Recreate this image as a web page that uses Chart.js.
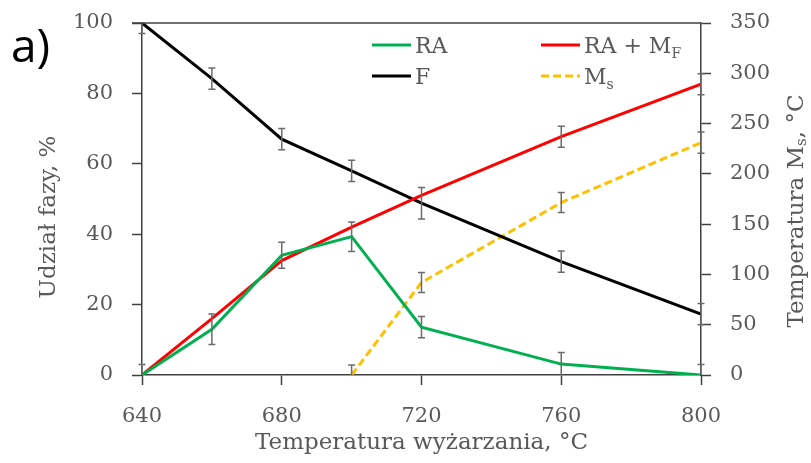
<!DOCTYPE html>
<html>
<head>
<meta charset="utf-8">
<script src="https://cdn.jsdelivr.net/npm/chart.js@4.4.0/dist/chart.umd.min.js"></script>
<style>
  html, body { margin: 0; padding: 0; background: #fff; }
  #wrap { width: 811px; height: 463px; }
</style>
</head>
<body>
<div id="wrap"><canvas id="c"></canvas></div>
<script>
// temperatures (x) and series
const temps = [640, 660, 680, 700, 720, 760, 800]
const ra    = [0, 13, 34, 39.3, 13.6, 3.1, 0]
const raMf  = [0, 16, 32.5, 42, 51, 67.7, 82.6]
const ferr  = [100, 84.2, 67, 58, 48.8, 32.2, 17.3]
const ms    = [null, null, null, 0, 92, 171.5, 231]

// error bar half-lengths (same units as their series), null = no bar
const raErr   = [3, 4.3, 3.7, 4.2, 3, 3.3, 3]
const raMfErr = [null, null, null, null, null, 3, 3]
const fErr    = [3, 3, 3, 3, 4.5, 3, 3]
const msErr   = [null, null, null, 10, 10, 10, 10.5]

const xTicks = [640, 680, 720, 760, 800]

const GREY = '#595959'
const AXIS = '#404040'
const FONT = 'DejaVu Serif'

const pts = arr => temps.map((t, i) => ({ x: t, y: arr[i] }))

// text with optional subscript parts: [[text, isSub], ...]
function drawParts(ctx, parts, x, y, size) {
  let cx = x
  parts.forEach(([txt, sub]) => {
    const s = sub ? Math.round(size * 0.65) : size
    ctx.font = s + 'px "' + FONT + '"'
    ctx.fillText(txt, cx, sub ? y + size * 0.22 : y)
    cx += ctx.measureText(txt).width
  })
  return cx - x
}
function partsWidth(ctx, parts, size) {
  let w = 0
  parts.forEach(([txt, sub]) => {
    ctx.font = (sub ? Math.round(size * 0.65) : size) + 'px "' + FONT + '"'
    w += ctx.measureText(txt).width
  })
  return w
}

const errorBars = {
  id: 'errorBars',
  afterDatasetsDraw(chart) {
    const ctx = chart.ctx
    const a = chart.chartArea
    ctx.save()
    ctx.beginPath()
    ctx.rect(a.left - 12, a.top, a.right - a.left + 24, a.bottom - a.top)
    ctx.clip()
    ctx.strokeStyle = '#6b6b6b'
    ctx.lineWidth = 1.5
    chart.data.datasets.forEach((ds, di) => {
      if (!ds.errs) return
      const meta = chart.getDatasetMeta(di)
      const ys = chart.scales[ds.yAxisID]
      ds.errs.forEach((e, i) => {
        const v = ds.data[i].y
        if (e == null || v == null) return
        const x = meta.data[i].x
        const y1 = ys.getPixelForValue(v - e)
        const y2 = ys.getPixelForValue(v + e)
        ctx.beginPath()
        ctx.moveTo(x, y1); ctx.lineTo(x, y2)
        ctx.moveTo(x - 3.5, y1); ctx.lineTo(x + 3.5, y1)
        ctx.moveTo(x - 3.5, y2); ctx.lineTo(x + 3.5, y2)
        ctx.stroke()
      })
    })
    ctx.restore()
  }
}

const decor = {
  id: 'decor',
  afterDraw(chart) {
    const ctx = chart.ctx
    const a = chart.chartArea
    ctx.save()
    // top frame line
    ctx.strokeStyle = AXIS
    ctx.lineWidth = 1.5
    ctx.beginPath()
    ctx.moveTo(a.left - 10, a.top); ctx.lineTo(a.right, a.top)
    ctx.stroke()

    // legend
    const legend = [
      { ds: 0, parts: [['RA', false]], x: 372, y: 45 },
      { ds: 1, parts: [['RA + M', false], ['F', true]], x: 541, y: 45 },
      { ds: 2, parts: [['F', false]], x: 372, y: 76 },
      { ds: 3, parts: [['M', false], ['s', true]], x: 541, y: 76 }
    ]
    legend.forEach(it => {
      const ds = chart.data.datasets[it.ds]
      ctx.strokeStyle = ds.borderColor
      ctx.lineWidth = 3
      ctx.setLineDash(ds.borderDash || [])
      ctx.beginPath()
      ctx.moveTo(it.x, it.y); ctx.lineTo(it.x + 39, it.y)
      ctx.stroke()
      ctx.setLineDash([])
      ctx.fillStyle = GREY
      ctx.textBaseline = 'alphabetic'
      ctx.textAlign = 'left'
      drawParts(ctx, it.parts, it.x + 43, it.y + 8, 22)
    })

    // axis titles
    ctx.fillStyle = GREY
    ctx.textBaseline = 'middle'
    ctx.textAlign = 'left'
    const xt = [['Temperatura wyżarzania, °C', false]]
    drawParts(ctx, xt, (a.left + a.right) / 2 - partsWidth(ctx, xt, 23) / 2, 443, 23)

    const lt = [['Udział fazy, %', false]]
    ctx.save()
    ctx.translate(49, 217)
    ctx.rotate(-Math.PI / 2)
    drawParts(ctx, lt, -partsWidth(ctx, lt, 23) / 2, 0, 23)
    ctx.restore()

    const rt = [['Temperatura M', false], ['s', true], [', °C', false]]
    ctx.save()
    ctx.translate(797, 211)
    ctx.rotate(-Math.PI / 2)
    drawParts(ctx, rt, -partsWidth(ctx, rt, 23) / 2, 0, 23)
    ctx.restore()

    // panel letter
    ctx.fillStyle = '#000'
    ctx.textBaseline = 'alphabetic'
    ctx.font = '46px "Open Sans"'
    ctx.fillText('a)', 11, 62)
    ctx.restore()
  }
}

const tickFont = { family: FONT, size: 21 }
const noPad = s => { s.paddingTop = 0; s.paddingBottom = 0; s.paddingLeft = 0; s.paddingRight = 0 }

new Chart(document.getElementById('c'), {
  type: 'line',
  data: {
    datasets: [
      { label: 'RA', data: pts(ra), errs: raErr, yAxisID: 'y', borderColor: '#00B050', borderWidth: 3 },
      { label: 'RA + MF', data: pts(raMf), errs: raMfErr, yAxisID: 'y', borderColor: '#FF0000', borderWidth: 3 },
      { label: 'F', data: pts(ferr), errs: fErr, yAxisID: 'y', borderColor: '#000000', borderWidth: 3 },
      { label: 'Ms', data: pts(ms), errs: msErr, yAxisID: 'y2', borderColor: '#FFC000', borderWidth: 3, borderDash: [8, 4] }
    ]
  },
  options: {
    responsive: true,
    maintainAspectRatio: false,
    animation: false,
    events: [],
    elements: { point: { radius: 0 }, line: { tension: 0 } },
    layout: { padding: { top: 23, right: 0, bottom: 0, left: 0 } },
    plugins: { legend: { display: false }, tooltip: { enabled: false } },
    scales: {
      x: {
        type: 'linear', min: 640, max: 800,
        afterFit: s => { s.height = 88; noPad(s) },
        afterBuildTicks: s => { s.ticks = xTicks.map(v => ({ value: v })) },
        grid: { drawOnChartArea: false, tickLength: 10, tickColor: AXIS, tickWidth: 1.5 },
        border: { color: AXIS, width: 1.5 },
        ticks: { font: tickFont, color: GREY, padding: 19, maxRotation: 0 }
      },
      y: {
        position: 'left', min: 0, max: 100,
        afterFit: s => { s.width = 142; noPad(s) },
        grid: { drawOnChartArea: false, tickLength: 10, tickColor: AXIS, tickWidth: 1.5 },
        border: { color: AXIS, width: 1.5 },
        ticks: { stepSize: 20, font: tickFont, color: GREY, padding: 19 }
      },
      y2: {
        position: 'right', min: 0, max: 350,
        afterFit: s => { s.width = 110; noPad(s) },
        grid: { drawOnChartArea: false, tickLength: 10, tickColor: AXIS, tickWidth: 1.5 },
        border: { color: AXIS, width: 1.5 },
        ticks: { stepSize: 50, font: tickFont, color: GREY, padding: 19 }
      }
    }
  },
  plugins: [errorBars, decor]
})
</script>
</body>
</html>
